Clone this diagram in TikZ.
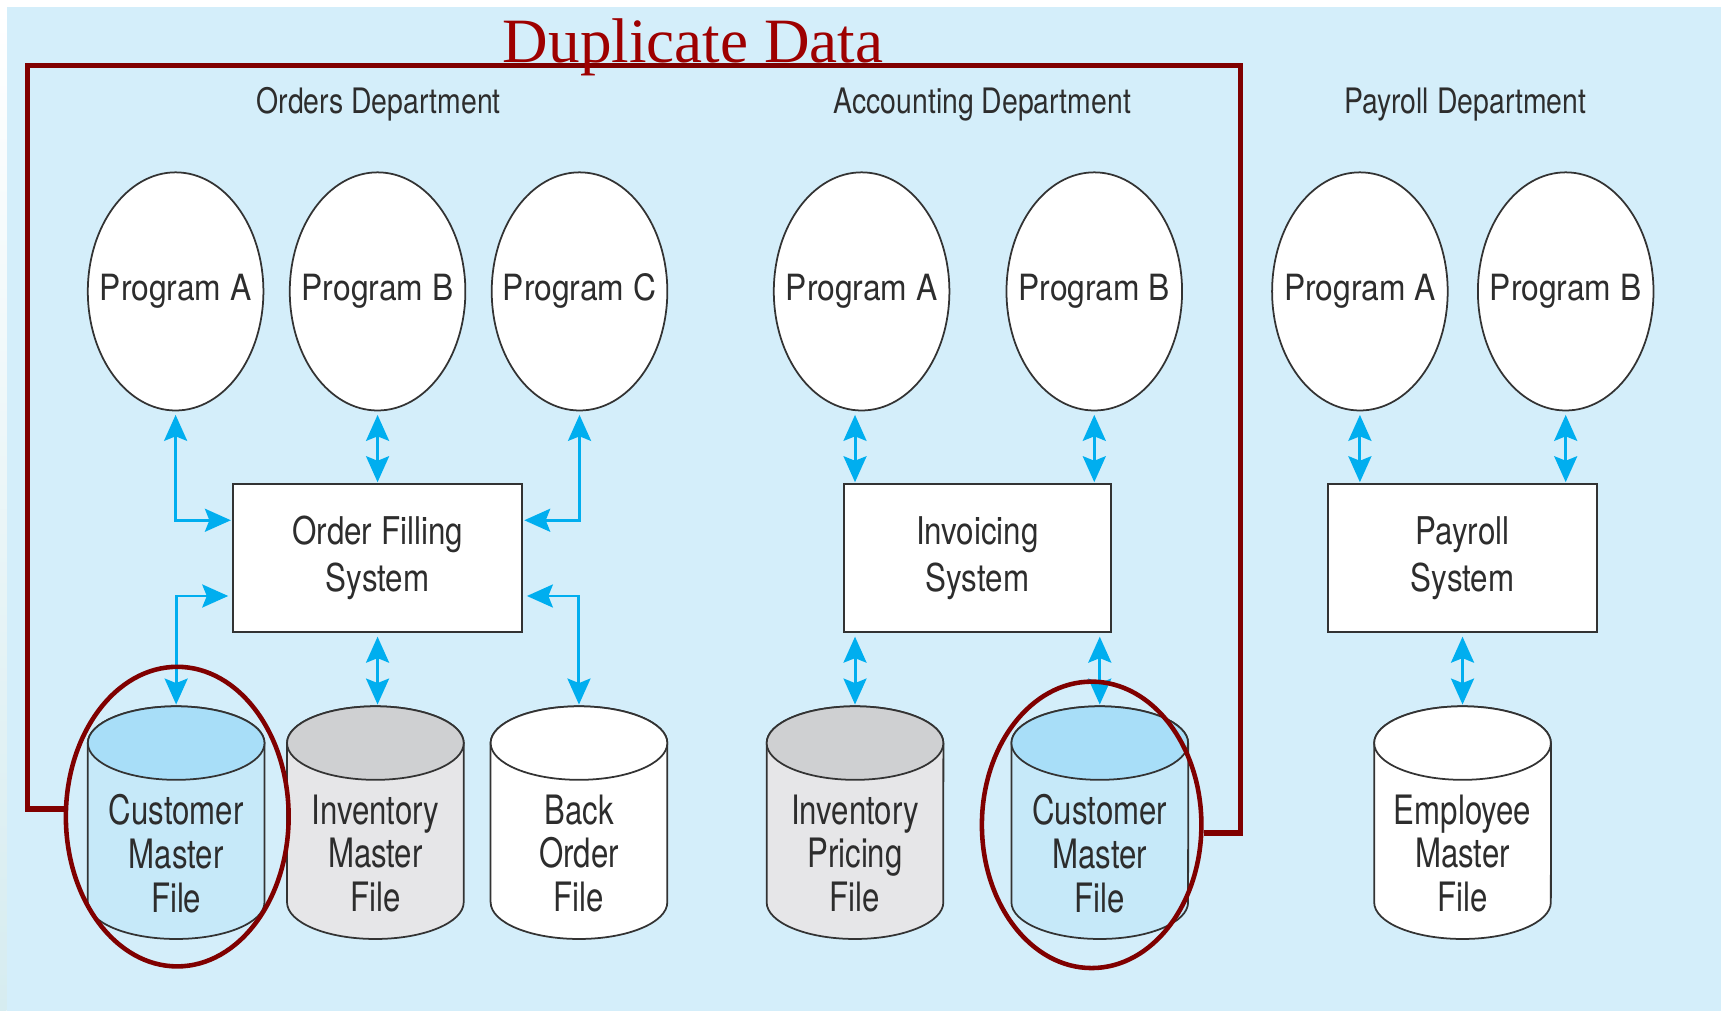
\documentclass[tikz,border=0pt]{standalone}
\usepackage{fontspec}
\setmainfont{TeX Gyre Heros}
\newfontfamily\titlefont{Liberation Serif}
\newfontfamily\deptfont[FakeStretch=0.81]{TeX Gyre Heros}
\newfontfamily\progfont[FakeStretch=0.88]{TeX Gyre Heros}
\newfontfamily\sysfont[FakeStretch=0.82]{TeX Gyre Heros}
\newfontfamily\filefont[FakeStretch=0.77]{TeX Gyre Heros}
\usetikzlibrary{shapes.geometric, arrows.meta, calc}

\definecolor{bgblue}{RGB}{212,238,250}
\definecolor{stripteal}{RGB}{183,224,228}
\definecolor{stripbot}{RGB}{214,236,240}
\definecolor{framered}{RGB}{128,0,0}
\definecolor{titlered}{RGB}{158,0,0}
\definecolor{inkgray}{RGB}{51,51,51}
\definecolor{textgray}{RGB}{45,45,45}
\definecolor{linkcyan}{RGB}{0,174,239}
\definecolor{custcap}{RGB}{168,222,248}
\definecolor{custbody}{RGB}{198,233,249}
\definecolor{invcap}{RGB}{207,208,210}
\definecolor{invbody}{RGB}{230,230,232}

\tikzset{
  dept/.style={anchor=base, inner sep=0pt, text=textgray,
    font=\deptfont\fontsize{20}{24}\selectfont},
  prog/.style={ellipse, draw=inkgray, line width=1pt, fill=white,
    minimum width=3.52cm, minimum height=4.774cm, inner sep=0pt,
    text=textgray, font=\progfont\fontsize{20.6}{24}\selectfont},
  sysbox/.style={rectangle, draw=inkgray, line width=1.1pt, fill=white,
    minimum height=2.97cm, inner sep=0pt, align=center, text=textgray,
    font=\sysfont\fontsize{21.8}{26.8}\selectfont},
  filearea/.style={rectangle, draw=none, inner sep=0pt,
    minimum width=3.542cm, minimum height=4.664cm},
  filetext/.style={inner sep=0pt, align=center, text=textgray,
    font=\filefont\fontsize{23.1}{25}\selectfont},
  fileline/.style={draw=inkgray, line width=1pt},
  tip/.tip={Stealth[length=0.52cm, width=0.46cm, inset=0.09cm]},
  link/.style={draw=linkcyan, line width=1.7pt, tip-tip,
    shorten <=2pt, shorten >=0.5pt},
  ring/.style={ellipse, draw=framered, line width=2.6pt, inner sep=0pt},
  frame/.style={draw=framered, line width=3pt, line join=miter},
}

% database file drawn as a cylinder: name, centre x, body colour, cap colour, label
\newcommand\datafile[5]{%
  \path[fileline, fill=#3] ({#2-80.5},-677) -- ({#2-80.5},-822)
    arc[start angle=180, end angle=360, x radius=1.771cm, y radius=0.737cm]
    -- ({#2+80.5},-677)
    arc[start angle=0, end angle=180, x radius=1.771cm, y radius=0.737cm] -- cycle;
  \path[fileline, fill=#4] (#2,-677) ellipse[x radius=1.771cm, y radius=0.737cm];
  \node[filearea] (#1) at (#2,-749) {};
  \node[filetext] (#1-label) at (#2,-777.5) {#5};
}

\begin{document}
\begin{tikzpicture}[x=0.022cm, y=0.022cm]
\useasboundingbox (0,0) rectangle (1568,-921);

% backdrop
\fill[white] (0,0) rectangle (1568,-921);
\shade[top color=white, middle color=stripteal, bottom color=stripbot] (0,-6) rectangle (6,-921);
\fill[bgblue] (6,-6) rectangle (1568,-921);

% department headings
\node[dept] (dO) at (345,-103) {Orders Department};
\node[dept] (dA) at (895,-103) {Accounting Department};
\node[dept] (dP) at (1335,-103) {Payroll Department};

% application programs
\node[prog] (oA) at (160,-265.5) {\makebox[0pt]{Program A}};
\node[prog] (oB) at (344,-265.5) {\makebox[0pt]{Program B}};
\node[prog] (oC) at (528,-265.5) {\makebox[0pt]{Program C}};
\node[prog] (aA) at (785,-265.5) {\makebox[0pt]{Program A}};
\node[prog] (aB) at (997,-265.5) {\makebox[0pt]{Program B}};
\node[prog] (pA) at (1239,-265.5) {\makebox[0pt]{Program A}};
\node[prog] (pB) at (1426.5,-265.5) {\makebox[0pt]{Program B}};

% file-processing systems
\node[sysbox, minimum width=5.808cm] (ofs) at (344,-508.5) {Order Filling\\System};
\node[sysbox, minimum width=5.346cm] (ivs) at (890.5,-508.5) {Invoicing\\System};
\node[sysbox, minimum width=5.39cm] (pys) at (1332.5,-508.5) {Payroll\\System};

% data files
\datafile{cmfo}{160.5}{custbody}{custcap}{Customer\\Master\\File}
\datafile{imf}{342}{invbody}{invcap}{Inventory\\Master\\File}
\datafile{bof}{527.5}{white}{white}{Back\\Order\\File}
\datafile{ipf}{779}{invbody}{invcap}{Inventory\\Pricing\\File}
\datafile{cmfa}{1002}{custbody}{custcap}{Customer\\Master\\File}
\datafile{emf}{1332.5}{white}{white}{Employee\\Master\\File}

% orders department links
\draw[link] (oA.south) |- ($(ofs.west)+(0,34.5)$);
\draw[link] (oB.south) -- (ofs.north);
\draw[link] (oC.south) |- ($(ofs.east)+(0,34.5)$);
\draw[link] ($(ofs.west)+(0,-34.5)$) -| (cmfo.north);
\draw[link] (ofs.south) -- (ofs.south |- imf.north);
\draw[link] ($(ofs.east)+(0,-34.5)$) -| (bof.north);

% accounting department links
\draw[link] (ipf.north |- aA.south) -- (ipf.north |- ivs.north);
\draw[link] (aB.south) -- (aB.south |- ivs.north);
\draw[link] (ipf.north |- ivs.south) -- (ipf.north);
\draw[link] (cmfa.north |- ivs.south) -- (cmfa.north);

% payroll department links
\draw[link] (pA.south) -- (pA.south |- pys.north);
\draw[link] (pB.south) -- (pB.south |- pys.north);
\draw[link] (pys.south) -- (pys.south |- emf.north);

% duplicated customer files
\node[ring, minimum width=4.466cm, minimum height=6.006cm] (ringO) at (161.5,-744) {};
\node[ring, minimum width=4.4cm, minimum height=5.742cm] (ringA) at (994.6,-751.5) {};
\draw[frame] ($(ringO.west)+(0,7)$) -| (25,-60) -| (1130,-759)
  -- ($(ringA.east)+(0,-7.5)$);

\node[anchor=base, inner sep=0pt, text=titlered,
  font=\titlefont\fontsize{36}{36}\selectfont] (dup) at (631.5,-57) {Duplicate Data};
\end{tikzpicture}
\end{document}
